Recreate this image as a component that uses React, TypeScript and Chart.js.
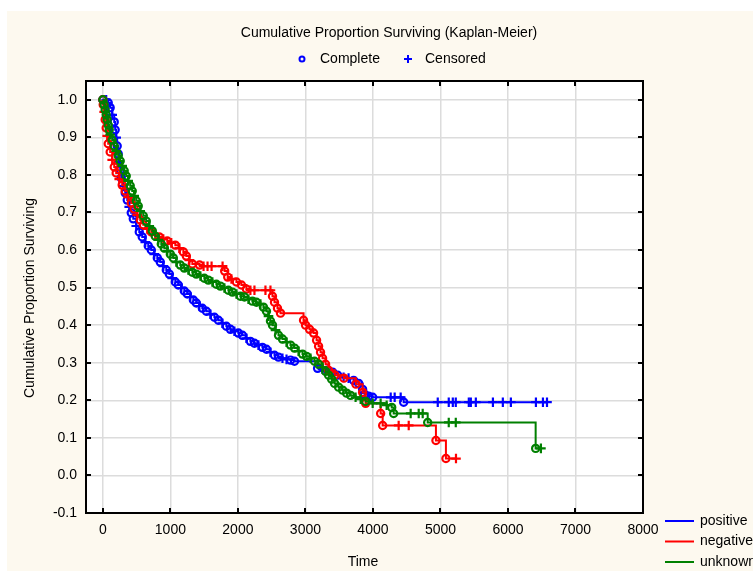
import { useEffect, useRef } from 'react';
import { Chart, registerables } from 'chart.js';

Chart.register(...registerables);

const FONT = '"Liberation Sans", Arial, sans-serif';

const chartTitle = 'Cumulative Proportion Surviving (Kaplan-Meier)';
const yTitle = 'Cumulative Proportion Surviving';
const xTitle = 'Time';
const markLegend = ['Complete', 'Censored'];
const seriesNames = ['positive', 'negative', 'unknown'];
const seriesColors = ['#0000ff', '#ff0000', '#008000'];

const xTicks = [0, 1000, 2000, 3000, 4000, 5000, 6000, 7000, 8000];
const yTicks = [-0.1, 0, 0.1, 0.2, 0.3, 0.4, 0.5, 0.6, 0.7, 0.8, 0.9, 1.0];

// positive
const posTime = [0, 49, 79, 108, 138, 168, 182, 197, 212, 227, 242, 257, 272, 301, 331, 361, 390, 420, 450, 494,
  539, 583, 628, 672, 717, 761, 806, 850, 895, 939, 984, 1028, 1073, 1117, 1162, 1206, 1251, 1295, 1340, 1384,
  1429, 1473, 1533, 1592, 1652, 1711, 1770, 1829, 1889, 1948, 2007, 2067, 2126, 2185, 2245, 2304, 2363, 2423, 2482, 2542,
  2601, 2660, 2720, 2779, 2838, 3180, 3254, 3328, 3402, 3476, 3565, 3639, 3714, 3788, 3847, 3877, 3936, 3996, 4263, 4322,
  4411, 4455, 4960, 5123, 5183, 5227, 5420, 5450, 5524, 5777, 5924, 6043, 6414, 6518, 6578];
const posSurv = [1.0, 1.0, 0.992, 0.979, 0.96, 0.941, 0.92, 0.899, 0.877, 0.856, 0.835, 0.813, 0.792, 0.771, 0.752, 0.733, 0.715, 0.699, 0.683, 0.664,
  0.648, 0.635, 0.621, 0.611, 0.6, 0.589, 0.579, 0.568, 0.557, 0.547, 0.536, 0.525, 0.515, 0.507, 0.499, 0.491, 0.483, 0.475, 0.467, 0.459,
  0.451, 0.445, 0.437, 0.429, 0.421, 0.413, 0.405, 0.397, 0.389, 0.384, 0.379, 0.373, 0.365, 0.357, 0.352, 0.347, 0.341, 0.336, 0.328, 0.32,
  0.315, 0.312, 0.309, 0.307, 0.304, 0.285, 0.283, 0.28, 0.275, 0.267, 0.261, 0.259, 0.253, 0.245, 0.229, 0.216, 0.211, 0.208, 0.208, 0.208,
  0.208, 0.195, 0.195, 0.195, 0.195, 0.195, 0.195, 0.195, 0.195, 0.195, 0.195, 0.195, 0.195, 0.195, 0.195];
const posMark = ('o+oo+oo+oo+oo+oo+oo+' + 'oo+oo+oo+oo+oo+oo+oo' + '+oo+oo+oo+oo+oo+oo+o' + 'o++ooo+ooo++oooooo++' + '+o+++++++++++++').split('');

// negative
const negTime = [0, 5, 19, 34, 49, 64, 79, 108, 138, 168, 197, 242, 286, 331, 375, 420, 465, 509, 553, 598,
  657, 717, 776, 835, 895, 954, 1013, 1073, 1132, 1192, 1236, 1281, 1325, 1432, 1491, 1550, 1610, 1773, 1804, 1849,
  1904, 1978, 2052, 2126, 2185, 2245, 2408, 2482, 2512, 2542, 2586, 2631, 2972, 3002, 3061, 3121, 3165, 3195, 3224, 3254,
  3299, 3343, 3436, 3570, 3748, 3847, 3892, 4114, 4144, 4381, 4530, 4933, 5081, 5230];
const negSurv = [1.0, 0.987, 0.968, 0.947, 0.925, 0.904, 0.883, 0.861, 0.84, 0.821, 0.805, 0.789, 0.773, 0.757, 0.741, 0.725, 0.709, 0.693, 0.68, 0.667,
  0.656, 0.648, 0.64, 0.635, 0.629, 0.624, 0.619, 0.613, 0.605, 0.595, 0.584, 0.573, 0.563, 0.56, 0.557, 0.557, 0.557, 0.557, 0.544, 0.528,
  0.523, 0.515, 0.507, 0.496, 0.493, 0.493, 0.493, 0.493, 0.477, 0.461, 0.445, 0.432, 0.413, 0.4, 0.389, 0.379, 0.36, 0.344, 0.328, 0.312,
  0.296, 0.28, 0.267, 0.259, 0.243, 0.221, 0.192, 0.165, 0.133, 0.133, 0.133, 0.093, 0.045, 0.045];
const negMark = ('oo+oo+oo+oo+oo+oo+oo' + '+o+o+o+o+oo+oo++++oo' + '+ooo++++oooooooooooo' + 'ooooooooo++oo+').split('');

// unknown
const unkTime = [0, 19, 34, 49, 64, 79, 94, 108, 138, 168, 197, 227, 257, 286, 316, 346, 375, 405, 435, 464,
  494, 524, 553, 598, 642, 687, 732, 776, 821, 865, 910, 954, 999, 1043, 1088, 1147, 1206, 1266, 1325, 1384,
  1444, 1503, 1562, 1622, 1681, 1741, 1800, 1859, 1919, 1978, 2037, 2097, 2156, 2215, 2275, 2334, 2378, 2423, 2453, 2482,
  2512, 2557, 2601, 2660, 2720, 2779, 2838, 2898, 2957, 3017, 3076, 3135, 3195, 3254, 3299, 3343, 3388, 3432, 3491, 3551,
  3610, 3669, 3743, 3818, 3892, 3996, 4114, 4203, 4278, 4307, 4559, 4678, 4737, 4811, 5123, 5227, 6410, 6488];
const unkSurv = [1.0, 0.987, 0.973, 0.96, 0.947, 0.933, 0.92, 0.907, 0.893, 0.877, 0.864, 0.851, 0.837, 0.824, 0.811, 0.797, 0.784, 0.771, 0.757, 0.744,
  0.731, 0.717, 0.704, 0.691, 0.677, 0.664, 0.651, 0.637, 0.627, 0.616, 0.605, 0.597, 0.589, 0.579, 0.568, 0.56, 0.552, 0.547, 0.541, 0.536,
  0.531, 0.525, 0.52, 0.515, 0.509, 0.504, 0.499, 0.493, 0.488, 0.483, 0.477, 0.475, 0.469, 0.464, 0.461, 0.456, 0.448, 0.437, 0.424, 0.411,
  0.4, 0.387, 0.373, 0.363, 0.355, 0.347, 0.339, 0.331, 0.323, 0.317, 0.312, 0.304, 0.296, 0.288, 0.277, 0.267, 0.256, 0.245, 0.235, 0.227,
  0.219, 0.213, 0.208, 0.203, 0.197, 0.192, 0.192, 0.187, 0.181, 0.165, 0.165, 0.165, 0.165, 0.141, 0.141, 0.141, 0.072, 0.072];
const unkMark = ('ooooooo+oo+oo+oo+oo+' + 'oo+oo+oo+oo+oo+oo+oo' + '+oo+oo+oo+oo+oo+oo+o' + 'o+oo+oo+oo+oo+oooooo' + 'oo++o+++oo+++o++o+').split('');

function makeDataset(label: string, times: number[], surv: number[], marks: string[], color: string, order: number) {
  return {
    label,
    data: times.map((t, i) => ({ x: t, y: surv[i] })),
    borderColor: color,
    borderWidth: 2,
    stepped: 'before' as const,
    fill: false,
    pointStyle: marks.map((m) => (m === 'o' ? 'circle' : 'cross')),
    pointRadius: marks.map((m) => (m === 'o' ? 3.6 : 4.8)),
    pointBorderColor: color,
    pointBackgroundColor: 'rgba(0,0,0,0)',
    pointBorderWidth: 2.2,
    order,
  };
}

const W = 746;
const H = 560;

const decor = {
  id: 'decor',
  beforeDraw(chart: any) {
    const { ctx, chartArea: a } = chart;
    ctx.save();
    ctx.fillStyle = '#fdf9ef';
    ctx.fillRect(0, 0, W, H);
    ctx.fillStyle = '#ffffff';
    ctx.fillRect(a.left, a.top, a.right - a.left, a.bottom - a.top);
    ctx.restore();
  },
  afterDraw(chart: any) {
    const { ctx, chartArea: a, scales } = chart;
    const x = scales.x;
    const y = scales.y;
    ctx.save();
    ctx.strokeStyle = '#000';
    ctx.lineWidth = 2;
    ctx.strokeRect(a.left, a.top, a.right - a.left, a.bottom - a.top);
    ctx.beginPath();
    xTicks.forEach((v) => {
      const px = Math.round(x.getPixelForValue(v));
      ctx.moveTo(px, a.bottom);
      ctx.lineTo(px, a.bottom - 5);
      ctx.moveTo(px, a.top);
      ctx.lineTo(px, a.top + 5);
    });
    yTicks.forEach((v) => {
      const py = Math.round(y.getPixelForValue(v));
      ctx.moveTo(a.left, py);
      ctx.lineTo(a.left + 5, py);
      ctx.moveTo(a.right, py);
      ctx.lineTo(a.right - 5, py);
    });
    ctx.stroke();

    ctx.fillStyle = '#000';
    ctx.font = `14px ${FONT}`;
    ctx.textBaseline = 'middle';
    ctx.textAlign = 'center';
    ctx.fillText(chartTitle, 382, 22);

    // marker legend
    ctx.strokeStyle = seriesColors[0];
    ctx.lineWidth = 2;
    ctx.beginPath();
    ctx.arc(295, 48, 2.5, 0, Math.PI * 2);
    ctx.stroke();
    ctx.beginPath();
    ctx.moveTo(401, 44);
    ctx.lineTo(401, 52);
    ctx.moveTo(397, 48);
    ctx.lineTo(405, 48);
    ctx.stroke();
    ctx.textAlign = 'left';
    ctx.fillText(markLegend[0], 313, 48);
    ctx.fillText(markLegend[1], 418, 48);

    // axis titles
    ctx.textAlign = 'center';
    ctx.fillText(xTitle, 356, 551);
    ctx.save();
    ctx.translate(23, 287);
    ctx.rotate(-Math.PI / 2);
    ctx.fillText(yTitle, 0, 0);
    ctx.restore();

    // series legend
    const rows = [510, 530.5, 551];
    seriesNames.forEach((name, i) => {
      ctx.strokeStyle = seriesColors[i];
      ctx.lineWidth = 2;
      ctx.beginPath();
      ctx.moveTo(658, rows[i]);
      ctx.lineTo(687, rows[i]);
      ctx.stroke();
      ctx.textAlign = 'left';
      ctx.fillStyle = '#000';
      ctx.fillText(name, 693, rows[i]);
    });
    ctx.restore();
  },
};

export default function App() {
  const ref = useRef<HTMLCanvasElement | null>(null);
  useEffect(() => {
    if (!ref.current) return;
    const chart = new Chart(ref.current, {
      type: 'line',
      data: {
        datasets: [
          makeDataset(seriesNames[0], posTime, posSurv, posMark, seriesColors[0], 2),
          makeDataset(seriesNames[1], negTime, negSurv, negMark, seriesColors[1], 1),
          makeDataset(seriesNames[2], unkTime, unkSurv, unkMark, seriesColors[2], 0),
        ] as any,
      },
      options: {
        responsive: false,
        animation: false,
        devicePixelRatio: 1,
        layout: { padding: { top: 70, right: 110, bottom: 0, left: 0 } },
        plugins: { legend: { display: false }, tooltip: { enabled: false }, title: { display: false } },
        scales: {
          x: {
            type: 'linear',
            min: -250,
            max: 8000,
            afterBuildTicks: (s: any) => { s.ticks = xTicks.map((v) => ({ value: v })); },
            afterFit: (s: any) => { s.height = H - 502; },
            grid: { color: '#dcdcdc', lineWidth: 1.5, drawTicks: false },
            border: { display: false },
            ticks: {
              color: '#000',
              font: { family: FONT, size: 14 },
              padding: 9,
              maxRotation: 0,
              autoSkip: false,
              callback: (v: any) => String(v),
            },
          },
          y: {
            type: 'linear',
            min: -0.1,
            max: 1.05,
            afterBuildTicks: (s: any) => { s.ticks = yTicks.map((v) => ({ value: v })); },
            afterFit: (s: any) => { s.width = 79; },
            grid: { color: '#dcdcdc', lineWidth: 1.5, drawTicks: false },
            border: { display: false },
            ticks: {
              color: '#000',
              font: { family: FONT, size: 14 },
              padding: 9,
              autoSkip: false,
              callback: (v: any) => Number(v).toFixed(1),
            },
          },
        },
      },
      plugins: [decor],
    });
    return () => chart.destroy();
  }, []);
  return (
    <div style={{ position: 'fixed', left: 7, top: 11, width: W, height: H }}>
      <canvas ref={ref} width={W} height={H} style={{ width: W, height: H, display: 'block' }} />
    </div>
  );
}
